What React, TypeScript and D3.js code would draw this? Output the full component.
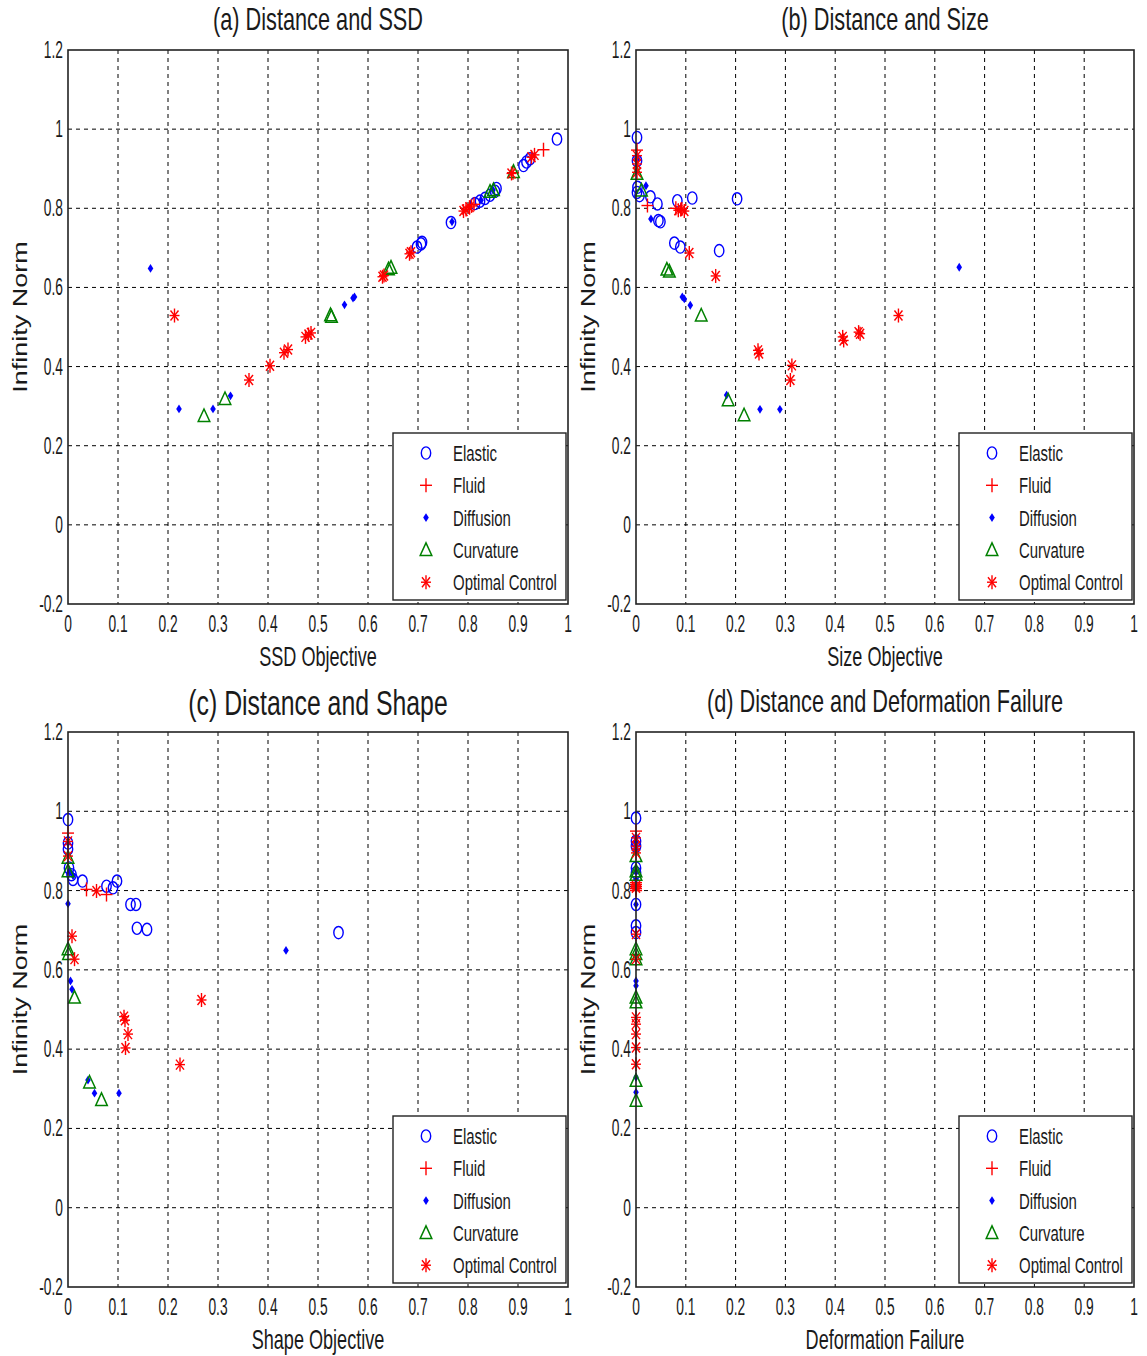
import React from "react";
import * as d3 from "d3";

type Pt = [number, number];

// ---------- Panel (a): SSD Objective vs Infinity Norm ----------
const aElastic: Pt[] = [[0.698,0.702],[0.706,0.710],[0.708,0.714],[0.766,0.764],[0.814,0.812],[0.824,0.818],[0.834,0.825],[0.844,0.833],[0.854,0.843],[0.857,0.850],[0.911,0.908],[0.917,0.917],[0.924,0.925],[0.978,0.975]];
const aFluid: Pt[] = [[0.807,0.806],[0.812,0.810],[0.890,0.890],[0.951,0.948]];
const aDiffusion: Pt[] = [[0.165,0.648],[0.222,0.293],[0.290,0.293],[0.325,0.326],[0.553,0.556],[0.570,0.573],[0.573,0.576],[0.768,0.766],[0.826,0.820],[0.850,0.846]];
const aCurvature: Pt[] = [[0.272,0.275],[0.314,0.318],[0.525,0.530],[0.527,0.526],[0.641,0.646],[0.646,0.650],[0.844,0.842],[0.851,0.846],[0.891,0.892]];
const aOptimal: Pt[] = [[0.213,0.529],[0.362,0.366],[0.404,0.402],[0.432,0.435],[0.440,0.443],[0.475,0.475],[0.481,0.481],[0.486,0.485],[0.629,0.627],[0.632,0.630],[0.683,0.685],[0.686,0.689],[0.791,0.793],[0.796,0.797],[0.803,0.803],[0.887,0.888],[0.927,0.929],[0.933,0.935]];

// ---------- Panel (b): Size Objective ----------
const bElastic: Pt[] = [[0.002,0.979],[0.002,0.920],[0.003,0.853],[0.002,0.840],[0.007,0.832],[0.029,0.829],[0.043,0.811],[0.045,0.769],[0.049,0.766],[0.083,0.819],[0.113,0.826],[0.203,0.824],[0.077,0.712],[0.089,0.702],[0.167,0.693]];
const bFluid: Pt[] = [[0.002,0.947],[0.023,0.807],[0.080,0.800],[0.090,0.797]];
const bDiffusion: Pt[] = [[0.002,0.922],[0.002,0.928],[0.020,0.857],[0.030,0.773],[0.093,0.576],[0.097,0.571],[0.109,0.555],[0.182,0.328],[0.249,0.292],[0.289,0.292],[0.649,0.651]];
const bCurvature: Pt[] = [[0.002,0.887],[0.011,0.845],[0.062,0.645],[0.067,0.640],[0.131,0.529],[0.185,0.315],[0.217,0.277]];
const bOptimal: Pt[] = [[0.002,0.933],[0.002,0.912],[0.002,0.891],[0.085,0.795],[0.092,0.798],[0.097,0.793],[0.107,0.687],[0.160,0.629],[0.245,0.441],[0.247,0.433],[0.313,0.403],[0.310,0.366],[0.415,0.475],[0.417,0.466],[0.447,0.487],[0.450,0.483],[0.527,0.529]];

// ---------- Panel (c): Shape Objective ----------
const cElastic: Pt[] = [[0,0.979],[0,0.920],[0,0.905],[0.002,0.857],[0.007,0.840],[0.010,0.828],[0.029,0.824],[0.077,0.811],[0.090,0.807],[0.098,0.824],[0.125,0.765],[0.136,0.765],[0.138,0.705],[0.158,0.702],[0.541,0.694]];
const cFluid: Pt[] = [[0,0.945],[0.037,0.803],[0.077,0.790]];
const cDiffusion: Pt[] = [[0,0.920],[0.003,0.850],[0.010,0.838],[0,0.767],[0.005,0.572],[0.008,0.551],[0.040,0.322],[0.053,0.289],[0.102,0.289],[0.436,0.649]];
const cCurvature: Pt[] = [[0,0.883],[0,0.849],[0,0.652],[0.001,0.640],[0.013,0.530],[0.043,0.316],[0.067,0.272]];
const cOptimal: Pt[] = [[0,0.924],[0,0.887],[0.057,0.799],[0.008,0.685],[0.013,0.627],[0.267,0.524],[0.112,0.482],[0.114,0.473],[0.120,0.438],[0.115,0.403],[0.224,0.361]];

// ---------- Panel (d): Deformation Failure ----------
const dElastic: Pt[] = [[0,0.983],[0,0.925],[0,0.912],[0,0.857],[0,0.845],[0,0.765],[0,0.711],[0,0.694]];
const dFluid: Pt[] = [[0,0.950],[0,0.820],[0,0.815],[0,0.810],[0,0.805],[0,0.800]];
const dDiffusion: Pt[] = [[0,0.933],[0,0.925],[0,0.920],[0,0.915],[0,0.910],[0,0.905],[0,0.849],[0,0.828],[0,0.765],[0,0.572],[0,0.560],[0,0.329],[0,0.291]];
const dCurvature: Pt[] = [[0,0.887],[0,0.849],[0,0.840],[0,0.652],[0,0.640],[0,0.627],[0,0.530],[0,0.518],[0,0.320],[0,0.270]];
const dOptimal: Pt[] = [[0,0.933],[0,0.912],[0,0.895],[0,0.812],[0,0.807],[0,0.690],[0,0.627],[0,0.480],[0,0.463],[0,0.438],[0,0.404],[0,0.362]];

const seriesNames = ["Elastic", "Fluid", "Diffusion", "Curvature", "Optimal Control"];
const xTicks = [0, 0.1, 0.2, 0.3, 0.4, 0.5, 0.6, 0.7, 0.8, 0.9, 1];
const yTicks = [-0.2, 0, 0.2, 0.4, 0.6, 0.8, 1, 1.2];

const FONT = "'Liberation Sans', Arial, sans-serif";

function NText({ x, y, size, sx = 0.68, anchor = "start", vertical = false, children }: any) {
  const tr = vertical
    ? `translate(${x},${y}) rotate(-90) scale(1,${sx})`
    : `translate(${x},${y}) scale(${sx},1)`;
  return (
    <g transform={tr}>
      <text x={0} y={0} fontSize={size} fontFamily={FONT} textAnchor={anchor} fill="#1a1a1a">
        {children}
      </text>
    </g>
  );
}

function Marker({ kind, x, y }: { kind: number; x: number; y: number }) {
  const t = `translate(${x},${y})`;
  switch (kind) {
    case 0:
      return <ellipse cx={x} cy={y} rx={4.7} ry={6.1} fill="none" stroke="#0000ff" strokeWidth={1.4} />;
    case 1:
      return (
        <g transform={t} stroke="#ff0000" strokeWidth={1.4}>
          <line x1={-6} y1={0} x2={6} y2={0} />
          <line x1={0} y1={-7} x2={0} y2={7} />
        </g>
      );
    case 2:
      return <path transform={t} d="M0,-4.4L2.8,0L0,4.4L-2.8,0Z" fill="#0000ff" />;
    case 3:
      return <path transform={t} d="M0,-7L5.8,5.5L-5.8,5.5Z" fill="none" stroke="#008000" strokeWidth={1.5} />;
    default:
      return (
        <g transform={t} stroke="#ff0000" strokeWidth={1.4}>
          <line x1={-5} y1={0} x2={5} y2={0} />
          <line x1={0} y1={-7} x2={0} y2={7} />
          <line x1={-4} y1={-5} x2={4} y2={5} />
          <line x1={-4} y1={5} x2={4} y2={-5} />
        </g>
      );
  }
}

const fmt = (v: number) => (Math.abs(v) < 1e-9 ? "0" : String(+v.toFixed(1)));

function Panel({ left, top, width, height, title, titleSize, titleY, xLabel, series }: any) {
  const x = d3.scaleLinear().domain([0, 1]).range([left, left + width]);
  const y = d3.scaleLinear().domain([-0.2, 1.2]).range([top + height, top]);
  const legX = left + width - 175;
  const legY = top + height - 171;
  return (
    <g>
      {xTicks.slice(1, -1).map((t) => (
        <line key={"gx" + t} x1={x(t)} x2={x(t)} y1={top} y2={top + height} stroke="#000" strokeWidth={1} strokeDasharray="4,4" />
      ))}
      {yTicks.slice(1, -1).map((t) => (
        <line key={"gy" + t} x1={left} x2={left + width} y1={y(t)} y2={y(t)} stroke="#000" strokeWidth={1} strokeDasharray="4,4" />
      ))}
      {series.map((pts: Pt[], k: number) =>
        pts.map((p, i) => <Marker key={k + "-" + i} kind={k} x={x(p[0])} y={y(p[1])} />)
      )}
      <rect x={left} y={top} width={width} height={height} fill="none" stroke="#222" strokeWidth={1.6} />
      {xTicks.map((t) => (
        <NText key={"xt" + t} x={x(t)} y={top + height + 28} size={23} sx={0.6} anchor="middle">{fmt(t)}</NText>
      ))}
      {yTicks.map((t) => (
        <NText key={"yt" + t} x={left - 5} y={y(t) + 8} size={23} sx={0.6} anchor="end">{fmt(t)}</NText>
      ))}
      <NText x={left + width / 2} y={titleY} size={titleSize} sx={0.69} anchor="middle">{title}</NText>
      <NText x={left + width / 2} y={top + height + 62} size={27} sx={0.67} anchor="middle">{xLabel}</NText>
      <NText x={left - 41} y={top + height / 2 - 10} size={27} sx={0.72} anchor="middle" vertical>Infinity Norm</NText>
      <rect x={legX} y={legY} width={173} height={167} fill="#fff" stroke="#222" strokeWidth={1.4} />
      {seriesNames.map((n, k) => (
        <g key={n}>
          <Marker kind={k} x={legX + 33} y={legY + 20 + k * 32.3} />
          <NText x={legX + 60} y={legY + 28 + k * 32.3} size={22} sx={0.68}>{n}</NText>
        </g>
      ))}
    </g>
  );
}

export default function App() {
  return (
    <svg width={1147} height={1356} style={{ position: "absolute", left: 0, top: 0, display: "block", background: "#fff" }}>
      <Panel left={68} top={50} width={500} height={554} title="(a) Distance and SSD" titleSize={31.5} titleY={30}
        xLabel="SSD Objective" series={[aElastic, aFluid, aDiffusion, aCurvature, aOptimal]} />
      <Panel left={636} top={50} width={498} height={554} title="(b) Distance and Size" titleSize={31.5} titleY={30}
        xLabel="Size Objective" series={[bElastic, bFluid, bDiffusion, bCurvature, bOptimal]} />
      <Panel left={68} top={732} width={500} height={555} title="(c) Distance and Shape" titleSize={36} titleY={715}
        xLabel="Shape Objective" series={[cElastic, cFluid, cDiffusion, cCurvature, cOptimal]} />
      <Panel left={636} top={732} width={498} height={555} title="(d) Distance and Deformation Failure" titleSize={31.5} titleY={712}
        xLabel="Deformation Failure" series={[dElastic, dFluid, dDiffusion, dCurvature, dOptimal]} />
    </svg>
  );
}
